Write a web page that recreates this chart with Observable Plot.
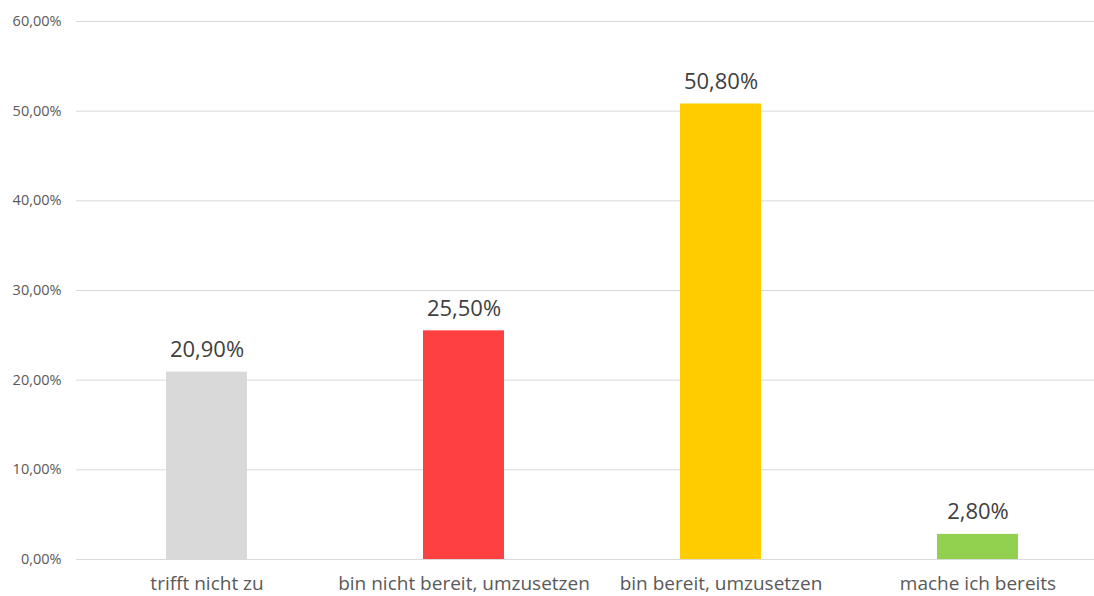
<!DOCTYPE html>
<html>
<head>
<meta charset="utf-8">
<script src="https://cdn.jsdelivr.net/npm/d3@7"></script>
<script src="https://cdn.jsdelivr.net/npm/@observablehq/plot@0.6"></script>
<style>
  html, body { margin: 0; padding: 0; background: #fff; overflow: hidden; }
  #chart svg { display: block; }
</style>
</head>
<body>
<div id="chart"></div>
<script>
const categories = ["trifft nicht zu", "bin nicht bereit, umzusetzen", "bin bereit, umzusetzen", "mache ich bereits"];
const values = [20.9, 25.5, 50.8, 2.8];
const colors = ["#D9D9D9", "#FF4040", "#FFCC00", "#92D050"];
const yTicks = [0, 10, 20, 30, 40, 50, 60];

const data = categories.map((c, i) => ({category: c, value: values[i], color: colors[i]}));
const fmt = v => v.toFixed(2).replace(".", ",") + "%";

const chart = Plot.plot({
  width: 1094,
  height: 596,
  marginLeft: 76,
  marginRight: 0,
  marginTop: 21,
  marginBottom: 37,
  style: {fontFamily: "'Open Sans', sans-serif", background: "#fff"},
  x: {domain: categories, range: [77, 1106], paddingInner: 0.685, paddingOuter: 0.3425, label: null},
  y: {domain: [0, 60], label: null},
  marks: [
    Plot.ruleY(yTicks, {stroke: "#D9D9D9", strokeWidth: 1}),
    Plot.barY(data, {x: "category", y: "value", fill: "color"}),
    Plot.text(data, {x: "category", y: "value", text: d => fmt(d.value), dy: -22, fontSize: 22, fill: "#404040"}),
    Plot.axisY({ticks: yTicks, tickFormat: fmt, tickSize: 0, tickPadding: 15, fontSize: 14.5, color: "#595959", label: null}),
    Plot.axisX({tickSize: 0, tickPadding: 17, fontSize: 19, color: "#595959", label: null})
  ]
});
document.getElementById("chart").appendChild(chart);
</script>
</body>
</html>
